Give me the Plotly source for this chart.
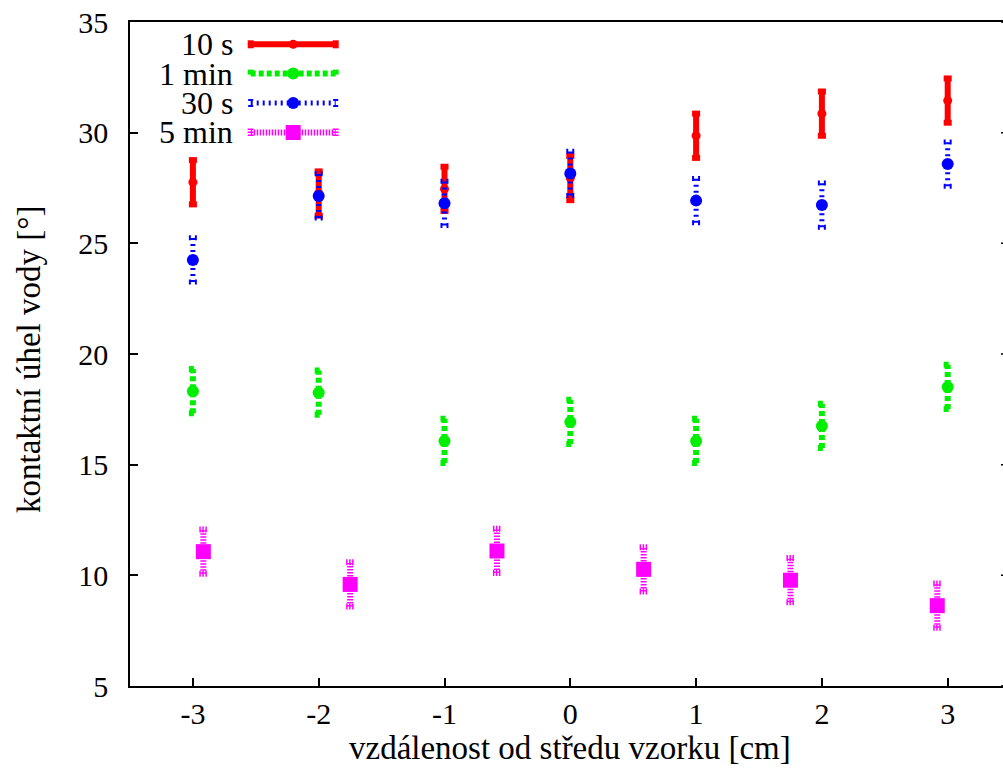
import plotly.graph_objects as go

# measurement positions [cm]
x_pos = [-3, -2, -1, 0, 1, 2, 3]
x_pos_5min = [-2.917, -1.75, -0.583, 0.583, 1.75, 2.917]

# contact angle [deg] and its uncertainty
angle_10s = [27.76, 27.25, 27.46, 27.95, 29.86, 30.86, 31.45]
err_10s = [1.0, 1.0, 1.0, 1.0, 1.0, 1.0, 1.0]
angle_1min = [18.32, 18.25, 16.07, 16.93, 16.07, 16.75, 18.51]
err_1min = [1.0, 1.0, 1.0, 1.0, 1.0, 1.0, 1.0]
angle_30s = [24.25, 27.14, 26.81, 28.16, 26.93, 26.73, 28.58]
err_30s = [1.0, 1.0, 1.0, 1.0, 1.0, 1.0, 1.0]
angle_5min = [11.07, 9.59, 11.10, 10.27, 9.78, 8.63]
err_5min = [1.0, 1.0, 1.0, 1.0, 1.0, 1.0]

y_ticks = [5, 10, 15, 20, 25, 30, 35]
x_ticks = [-3, -2, -1, 0, 1, 2, 3]

FONT = "Liberation Serif, Times New Roman, DejaVu Serif, serif"
CAP = 0.032  # half width of error bar caps in x units

series = [
    dict(name="10 s", x=x_pos, y=angle_10s, e=err_10s, color="#ff0000",
         dash="solid", width=6, symbol="circle", msize=9),
    dict(name="1 min", x=x_pos, y=angle_1min, e=err_1min, color="#00ee00",
         dash="5px,3px", width=6, symbol="circle", msize=12),
    dict(name="30 s", x=x_pos, y=angle_30s, e=err_30s, color="#0000ff",
         dash="2px,4px", width=5, symbol="circle", msize=12),
    dict(name="5 min", x=x_pos_5min, y=angle_5min, e=err_5min, color="#ff00ff",
         dash="1.5px,1.5px", width=6, symbol="square", msize=15),
]

fig = go.Figure()

for s in series:
    ex, ey = [], []
    for xi, yi, ei in zip(s["x"], s["y"], s["e"]):
        ex += [xi, xi, None, xi - CAP, xi + CAP, None, xi - CAP, xi + CAP, None]
        ey += [yi - ei, yi + ei, None, yi - ei, yi - ei, None, yi + ei, yi + ei, None]
    fig.add_trace(go.Scatter(x=ex, y=ey, mode="lines", showlegend=False,
                             hoverinfo="skip",
                             line=dict(color=s["color"], width=s["width"], dash=s["dash"])))
    fig.add_trace(go.Scatter(x=s["x"], y=s["y"], mode="markers", showlegend=False,
                             name=s["name"],
                             marker=dict(color=s["color"], size=s["msize"], symbol=s["symbol"],
                                         line=dict(width=0))))

# plot area geometry in pixels
L, T, B, W = 130, 22, 686, 873
H = B - T


def px_x(p):
    return (p - L) / W


def px_y(p):
    return (B - p) / H


shapes = []
annotations = []

# short mirror ticks at the right edge
for v in y_ticks:
    shapes.append(dict(type="line", xref="paper", yref="y", x0=px_x(1001), x1=1.01,
                       y0=v, y1=v, line=dict(color="black", width=1.5)))

# key: label on the left, sample line with marker on the right
rows = [44.3, 73.6, 103.0, 132.5]
lx0, lx1, lxm = 250.7, 335.7, 293.2
for s, ry in zip(series, rows):
    yp = px_y(ry)
    annotations.append(dict(xref="paper", yref="paper", x=px_x(235), y=yp,
                            xanchor="right", yanchor="middle", showarrow=False,
                            text=s["name"], font=dict(family=FONT, size=32, color="black")))
    ln = dict(color=s["color"], width=s["width"], dash=s["dash"])
    shapes.append(dict(type="line", xref="paper", yref="paper", x0=px_x(lx0), x1=px_x(lx1),
                       y0=yp, y1=yp, line=ln))
    for cx in (lx0, lx1):
        shapes.append(dict(type="line", xref="paper", yref="paper", x0=px_x(cx), x1=px_x(cx),
                           y0=px_y(ry - 4), y1=px_y(ry + 4), line=ln))
    r = s["msize"] / 2
    shapes.append(dict(type="circle" if s["symbol"] == "circle" else "rect",
                       xref="paper", yref="paper", xsizemode="pixel", ysizemode="pixel",
                       xanchor=px_x(lxm), yanchor=yp, x0=-r, x1=r, y0=-r, y1=r,
                       fillcolor=s["color"], line=dict(width=0)))

# axis titles
annotations.append(dict(xref="paper", yref="paper", x=px_x(570), y=px_y(748),
                        xanchor="center", yanchor="middle", showarrow=False,
                        text="vzdálenost od středu vzorku [cm]",
                        font=dict(family=FONT, size=33, color="black")))
annotations.append(dict(xref="paper", yref="paper", x=px_x(29), y=px_y(360),
                        xanchor="center", yanchor="middle", showarrow=False, textangle=-90,
                        text="kontaktní úhel vody [°]",
                        font=dict(family=FONT, size=33, color="black")))

fig.update_layout(
    width=1003, height=778,
    margin=dict(l=L, r=0, t=T, b=778 - B),
    paper_bgcolor="white", plot_bgcolor="white",
    font=dict(family=FONT, size=30, color="black"),
    shapes=shapes, annotations=annotations,
    showlegend=False,
)
fig.update_xaxes(range=[-3.5, -3.5 + W / 125.8], tickvals=x_ticks, ticktext=[str(t) for t in x_ticks],
                 ticks="inside", ticklen=8, tickwidth=1.5, tickcolor="black",
                 showline=True, linecolor="black", linewidth=1.5, mirror=True,
                 showgrid=False, zeroline=False, ticklabelstandoff=0,
                 tickfont=dict(family=FONT, size=30, color="black"))
fig.update_yaxes(range=[5, 35], tickvals=y_ticks, ticktext=[str(t) for t in y_ticks],
                 ticks="inside", ticklen=8, tickwidth=1.5, tickcolor="black",
                 showline=True, linecolor="black", linewidth=1.5, mirror=False,
                 showgrid=False, zeroline=False, ticklabelstandoff=14,
                 tickfont=dict(family=FONT, size=30, color="black"))

fig.write_html("out.html")
